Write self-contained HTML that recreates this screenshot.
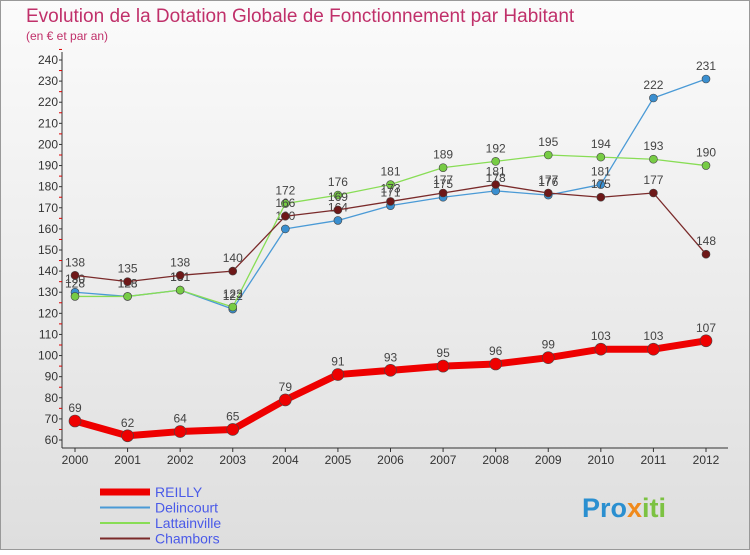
<!DOCTYPE html>
<html><head><meta charset="utf-8"><style>
body{margin:0;width:750px;height:550px;overflow:hidden;font-family:"Liberation Sans",sans-serif}
</style></head><body>
<svg width="750" height="550" viewBox="0 0 750 550">
<defs><linearGradient id="bg" x1="0" y1="0" x2="0" y2="1"><stop offset="0" stop-color="#fbfbfb"/><stop offset="1" stop-color="#dedede"/></linearGradient></defs>
<rect x="0.5" y="0.5" width="749" height="549" fill="url(#bg)" stroke="#999"/>
<text x="26" y="22" font-size="19" fill="#c0306a">Evolution de la Dotation Globale de Fonctionnement par Habitant</text>
<text x="26" y="40" font-size="12" fill="#c0306a">(en € et par an)</text>
<g id="axes"></g>
<g id="series"></g>
<g id="legend"></g>
<text x="582" y="517" font-size="27" font-weight="bold" fill="#2a8fd0">Pro<tspan fill="#f08a1c">x</tspan><tspan fill="#7cc242">iti</tspan></text>
</svg>
<script>
const years=[2000,2001,2002,2003,2004,2005,2006,2007,2008,2009,2010,2011,2012];
const yTicks=[60,70,80,90,100,110,120,130,140,150,160,170,180,190,200,210,220,230,240];
const reilly=[69,62,64,65,79,91,93,95,96,99,103,103,107];
const delincourt=[130,128,131,122,160,164,171,175,178,176,181,222,231];
const lattainville=[128,128,131,123,172,176,181,189,192,195,194,193,190];
const chambors=[138,135,138,140,166,169,173,177,181,177,175,177,148];
const NS="http://www.w3.org/2000/svg";
const xS=i=>75+i*(706-75)/(years.length-1);
const yS=v=>440-(v-60)*380/180;
function mk(t,a,p){const e=document.createElementNS(NS,t);for(const k in a)e.setAttribute(k,a[k]);p.appendChild(e);return e;}
const ax=document.getElementById('axes');
let l=mk('line',{x1:62,y1:52,x2:62,y2:448,stroke:'#333'},ax);


l=mk('line',{x1:62,y1:448,x2:728,y2:448,stroke:'#333'},ax);


yTicks.forEach(v=>{
 const t=mk('text',{x:58,y:yS(v)+4,'font-size':12,'text-anchor':'end',fill:'#333'},ax);t.textContent=v;
 
 
 mk('line',{x1:59,y1:yS(v),x2:62,y2:yS(v),stroke:'#333'},ax);
 mk('line',{x1:59,y1:yS(v+5),x2:62,y2:yS(v+5),stroke:'#d00'},ax);
});
years.forEach((y,i)=>{
 const t=mk('text',{x:xS(i),y:464,'font-size':12,'text-anchor':'middle',fill:'#333'},ax);t.textContent=y;
 
 
 mk('line',{x1:xS(i),y1:448,x2:xS(i),y2:452,stroke:'#333'},ax);
});
const sg=document.getElementById('series');
function draw(vals,color,w,r,dot,name){
 const g=mk('g',{},sg);
 
 
 const p=mk('polyline',{points:vals.map((v,i)=>xS(i)+','+yS(v)).join(' '),fill:'none',stroke:color,'stroke-width':w,'stroke-linejoin':'round'},g);
 
 
 vals.forEach((v,i)=>{
  const c=mk('circle',{cx:xS(i),cy:yS(v),r:r,fill:dot,stroke:'#444','stroke-width':0.6},g);
  
  
  const t=mk('text',{x:xS(i),y:yS(v)-9,'font-size':12,'text-anchor':'middle',fill:'#444'},g);t.textContent=v;
  
  
 });
}
draw(delincourt,'#4a9ad6',1.3,4,'#3a8fd0','delincourt');
draw(lattainville,'#88dd55',1.3,4,'#77cc44','lattainville');
draw(chambors,'#7a2a2a',1.3,4,'#6e1818','chambors');
draw(reilly,'#ee0000',7,6,'#ee0000','reilly');
const lg=document.getElementById('legend');
const leg=[['REILLY','#ee0000',7],['Delincourt','#4a9ad6',2],['Lattainville','#88dd55',2],['Chambors','#7a2a2a',2]];
leg.forEach((e,i)=>{
 const y=492+i*15.5;
 const g=mk('g',{},lg);
 
 
 mk('line',{x1:100,y1:y,x2:150,y2:y,stroke:e[1],'stroke-width':e[2]},g);
 const t=mk('text',{x:155,y:y+5,'font-size':14,fill:'#4a5ae8'},g);t.textContent=e[0];
});
</script>
</body></html>
